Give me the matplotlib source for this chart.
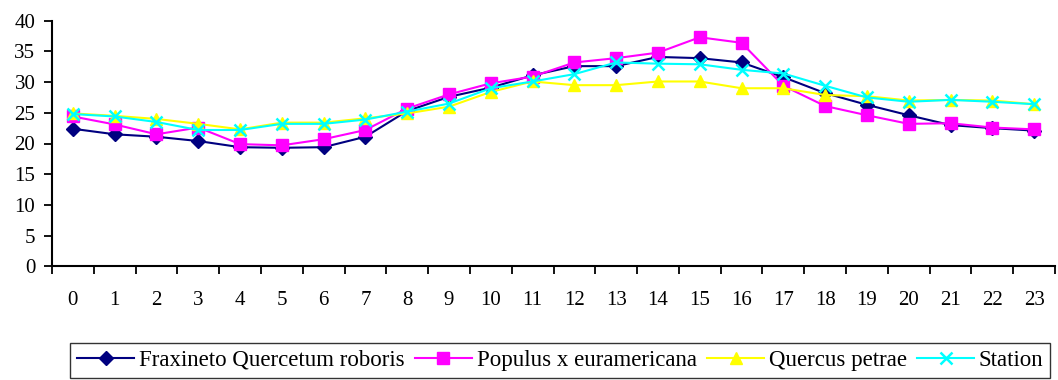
import numpy as np
import matplotlib
matplotlib.use("Agg")
import matplotlib.pyplot as plt
from matplotlib.ticker import FixedLocator, NullFormatter, FixedFormatter

hours = list(range(24))
fraxineto = [22.4, 21.5, 21.1, 20.4, 19.4, 19.3, 19.4, 21.1, 25.3, 27.6, 29.1, 31.1,
             32.6, 32.6, 34.1, 33.9, 33.2, 30.8, 28.2, 26.3, 24.6, 23.0, 22.5, 22.1]
populus = [24.4, 23.1, 21.5, 22.6, 19.9, 19.7, 20.7, 22.2, 25.7, 28.0, 29.8, 30.9,
           33.2, 33.9, 34.8, 37.3, 36.4, 29.4, 26.1, 24.6, 23.2, 23.3, 22.6, 22.3]
quercus = [24.9, 24.5, 24.0, 23.2, 22.3, 23.4, 23.4, 24.1, 24.9, 26.0, 28.4, 30.1,
           29.5, 29.5, 30.1, 30.1, 29.0, 29.0, 27.9, 27.7, 27.0, 27.1, 27.0, 26.4]
station = [24.8, 24.4, 23.5, 22.2, 22.2, 23.2, 23.2, 23.9, 25.2, 26.5, 29.0, 30.1,
           31.3, 33.2, 33.0, 32.9, 32.0, 31.4, 29.4, 27.5, 26.8, 27.1, 26.8, 26.4]
labels = ["Fraxineto Quercetum roboris", "Populus x euramericana", "Quercus petrae", "Station"]

plt.rcParams['font.family'] = ['Liberation Serif', 'DejaVu Serif']

fig = plt.figure(figsize=(10.58, 3.8), dpi=100)
ax = fig.add_axes([52 / 1058, 1 - 266.3 / 380, 1003 / 1058, (266.3 - 20.7) / 380])

x = np.array(hours)
ax.plot(x, fraxineto, color='#000080', lw=1.5, marker='D', ms=7, label=labels[0])
ax.plot(x, populus, color='#FF00FF', lw=1.5, marker='s', ms=8, label=labels[1])
ax.plot(x, quercus, color='#FFFF00', lw=1.5, marker='^', ms=9, label=labels[2])
ax.plot(x, station, color='#00FFFF', lw=1.5, marker='x', ms=9, mew=1.8, label=labels[3])

ax.set_xlim(-0.5, 23.5)
ax.set_ylim(0, 40)
ax.set_yticks(np.arange(0, 41, 5))
ax.xaxis.set_major_locator(FixedLocator(np.arange(-0.5, 24, 1)))
ax.xaxis.set_major_formatter(NullFormatter())
ax.xaxis.set_minor_locator(FixedLocator(x))
ax.xaxis.set_minor_formatter(FixedFormatter([str(h) for h in hours]))
ax.tick_params(axis='x', which='major', length=6, width=1.3, direction='out')
ax.tick_params(axis='x', which='minor', length=0, pad=18, labelsize=15)
ax.tick_params(axis='y', length=6, width=1.3, direction='out', labelsize=15, pad=6)

for s in ['top', 'right']:
    ax.spines[s].set_visible(False)
for s in ['left', 'bottom']:
    ax.spines[s].set_linewidth(1.5)

leg = fig.legend(loc='upper left', bbox_to_anchor=(70 / 1058, 1 - 343 / 380), ncol=4,
                 fontsize=16.5, frameon=True, fancybox=False, edgecolor='black',
                 handlelength=2.5, handletextpad=0.2, columnspacing=0.45,
                 borderpad=0.3, borderaxespad=0)
leg.get_frame().set_linewidth(1.0)

fig.savefig('out.png', dpi=100)
